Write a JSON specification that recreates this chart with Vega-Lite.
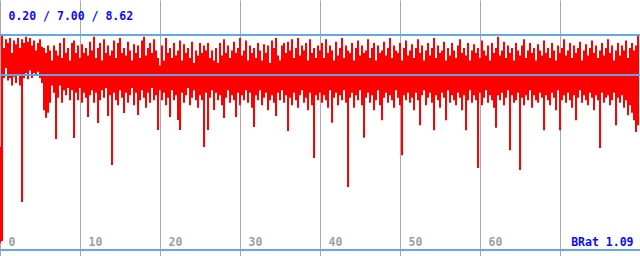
{
"$schema":"https://vega.github.io/schema/vega-lite/v6.json",
"width":640,"height":256,"autosize":"none","padding":0,"background":"#ffffff",
"config":{"view":{"stroke":null}},
"data":{"values":[
{"t":0,"h":4.13,"l":0.28},{"t":0.25,"h":8.58,"l":0.36},{"t":0.5,"h":8.1,"l":6.9},{"t":0.75,"h":8.45,"l":7.3},{"t":1,"h":8.3,"l":6.8},{"t":1.25,"h":8.5,"l":6.9},{"t":1.5,"h":7.9,"l":6.6},{"t":1.75,"h":8.4,"l":6.95},{"t":2,"h":8.25,"l":6.7},{"t":2.25,"h":8.5,"l":7.05},
{"t":2.5,"h":8.1,"l":6.6},{"t":2.75,"h":8.45,"l":1.92},{"t":3,"h":8.3,"l":6.9},{"t":3.25,"h":8.55,"l":7.1},{"t":3.5,"h":8.35,"l":6.85},{"t":3.75,"h":8.5,"l":7.2},{"t":4,"h":8.2,"l":6.9},{"t":4.25,"h":8.4,"l":7.1},{"t":4.5,"h":8.0,"l":7.05},{"t":4.75,"h":8.3,"l":7.15},
{"t":5,"h":8.45,"l":6.9},{"t":5.25,"h":8.15,"l":6.7},{"t":5.5,"h":8.1,"l":5.6},{"t":5.75,"h":7.9,"l":5.3},{"t":6,"h":8.2,"l":5.5},{"t":6.25,"h":8.0,"l":5.9},{"t":6.5,"h":7.6,"l":6.6},{"t":6.75,"h":8.2,"l":6.3},{"t":7,"h":8.0,"l":4.45},{"t":7.25,"h":7.8,"l":6.1},
{"t":7.5,"h":8.3,"l":6.6},{"t":7.75,"h":7.7,"l":5.9},{"t":8,"h":8.5,"l":6.4},{"t":8.25,"h":7.9,"l":6.2},{"t":8.5,"h":8.1,"l":6.5},{"t":8.75,"h":7.6,"l":6.0},{"t":9,"h":8.3,"l":6.4},{"t":9.25,"h":8.4,"l":4.49},{"t":9.5,"h":7.9,"l":6.3},{"t":9.75,"h":8.2,"l":6.0},
{"t":10,"h":7.7,"l":6.5},{"t":10.25,"h":8.25,"l":5.9},{"t":10.5,"h":7.9,"l":6.3},{"t":10.75,"h":8.1,"l":6.1},{"t":11,"h":7.8,"l":5.33},{"t":11.25,"h":8.35,"l":6.2},{"t":11.5,"h":8.0,"l":6.4},{"t":11.75,"h":8.55,"l":5.9},{"t":12,"h":7.7,"l":6.3},{"t":12.25,"h":8.1,"l":5.09},
{"t":12.5,"h":8.3,"l":6.0},{"t":12.75,"h":7.6,"l":6.4},{"t":13,"h":8.45,"l":6.1},{"t":13.25,"h":7.9,"l":6.5},{"t":13.5,"h":8.2,"l":5.37},{"t":13.75,"h":7.8,"l":6.2},{"t":14,"h":8.0,"l":3.41},{"t":14.25,"h":8.4,"l":6.3},{"t":14.5,"h":7.7,"l":6.0},{"t":14.75,"h":8.3,"l":5.8},
{"t":15,"h":8.5,"l":6.4},{"t":15.25,"h":7.9,"l":6.1},{"t":15.5,"h":8.1,"l":5.49},{"t":15.75,"h":7.8,"l":6.3},{"t":16,"h":8.35,"l":5.9},{"t":16.25,"h":8.0,"l":6.2},{"t":16.5,"h":7.6,"l":6.5},{"t":16.75,"h":8.25,"l":5.8},{"t":17,"h":7.9,"l":6.3},{"t":17.25,"h":8.2,"l":5.41},
{"t":17.5,"h":7.7,"l":6.0},{"t":17.75,"h":8.4,"l":6.4},{"t":18,"h":8.55,"l":6.1},{"t":18.25,"h":7.8,"l":5.7},{"t":18.5,"h":8.1,"l":6.3},{"t":18.75,"h":8.3,"l":5.9},{"t":19,"h":7.9,"l":6.5},{"t":19.25,"h":8.45,"l":6.0},{"t":19.5,"h":8.0,"l":6.2},{"t":19.75,"h":7.7,"l":4.81},
{"t":20,"h":7.4,"l":6.4},{"t":20.25,"h":8.2,"l":6.0},{"t":20.5,"h":7.6,"l":6.3},{"t":20.75,"h":8.5,"l":5.8},{"t":21,"h":7.9,"l":6.1},{"t":21.25,"h":8.1,"l":5.33},{"t":21.5,"h":7.7,"l":6.4},{"t":21.75,"h":8.3,"l":6.0},{"t":22,"h":7.8,"l":6.2},{"t":22.25,"h":8.0,"l":5.21},
{"t":22.5,"h":8.4,"l":4.81},{"t":22.75,"h":7.6,"l":6.3},{"t":23,"h":8.25,"l":5.9},{"t":23.25,"h":7.9,"l":6.2},{"t":23.5,"h":8.1,"l":6.5},{"t":23.75,"h":7.7,"l":5.8},{"t":24,"h":8.35,"l":6.1},{"t":24.25,"h":7.5,"l":6.4},{"t":24.5,"h":8.0,"l":6.0},{"t":24.75,"h":7.8,"l":5.7},
{"t":25,"h":8.3,"l":6.2},{"t":25.25,"h":7.9,"l":6.0},{"t":25.5,"h":8.2,"l":4.13},{"t":25.75,"h":8.0,"l":6.3},{"t":26,"h":8.3,"l":4.81},{"t":26.25,"h":7.7,"l":6.1},{"t":26.5,"h":8.0,"l":6.4},{"t":26.75,"h":7.6,"l":5.61},{"t":27,"h":8.1,"l":6.3},{"t":27.25,"h":7.5,"l":6.0},
{"t":27.5,"h":8.3,"l":6.2},{"t":27.75,"h":7.8,"l":5.8},{"t":28,"h":8.45,"l":5.29},{"t":28.25,"h":7.9,"l":6.1},{"t":28.5,"h":8.2,"l":6.4},{"t":28.75,"h":7.7,"l":5.9},{"t":29,"h":8.0,"l":6.2},{"t":29.25,"h":8.35,"l":6.0},{"t":29.5,"h":7.9,"l":5.33},{"t":29.75,"h":8.1,"l":6.3},
{"t":30,"h":8.5,"l":5.8},{"t":30.25,"h":7.8,"l":6.2},{"t":30.5,"h":8.0,"l":6.0},{"t":30.75,"h":8.4,"l":6.4},{"t":31,"h":7.6,"l":5.9},{"t":31.25,"h":8.2,"l":6.3},{"t":31.5,"h":7.9,"l":5.7},{"t":31.75,"h":8.1,"l":4.93},{"t":32,"h":7.7,"l":6.2},{"t":32.25,"h":8.3,"l":6.0},
{"t":32.5,"h":8.0,"l":6.4},{"t":32.75,"h":7.6,"l":5.8},{"t":33,"h":8.25,"l":6.1},{"t":33.25,"h":7.9,"l":6.3},{"t":33.5,"h":8.2,"l":5.6},{"t":33.75,"h":7.5,"l":6.0},{"t":34,"h":8.4,"l":6.2},{"t":34.25,"h":8.1,"l":5.9},{"t":34.5,"h":8.5,"l":5.37},{"t":34.75,"h":7.8,"l":6.3},
{"t":35,"h":7.6,"l":6.0},{"t":35.25,"h":8.2,"l":6.4},{"t":35.5,"h":8.3,"l":5.9},{"t":35.75,"h":7.9,"l":6.2},{"t":36,"h":8.35,"l":4.77},{"t":36.25,"h":8.0,"l":6.1},{"t":36.5,"h":8.45,"l":5.8},{"t":36.75,"h":7.7,"l":6.3},{"t":37,"h":8.1,"l":6.0},{"t":37.25,"h":8.5,"l":5.7},
{"t":37.5,"h":7.8,"l":6.2},{"t":37.75,"h":8.2,"l":6.4},{"t":38,"h":8.0,"l":5.9},{"t":38.25,"h":8.3,"l":6.1},{"t":38.5,"h":7.6,"l":5.6},{"t":38.75,"h":8.45,"l":6.3},{"t":39,"h":7.9,"l":5.8},{"t":39.25,"h":8.1,"l":3.69},{"t":39.5,"h":7.7,"l":6.2},{"t":39.75,"h":8.2,"l":6.0},
{"t":40,"h":8.0,"l":6.3},{"t":40.25,"h":8.3,"l":5.9},{"t":40.5,"h":7.7,"l":6.2},{"t":40.75,"h":8.45,"l":6.0},{"t":41,"h":7.9,"l":5.7},{"t":41.25,"h":8.2,"l":6.4},{"t":41.5,"h":8.0,"l":5.1},{"t":41.75,"h":7.6,"l":6.1},{"t":42,"h":8.35,"l":6.3},{"t":42.25,"h":7.8,"l":5.8},
{"t":42.5,"h":8.1,"l":6.2},{"t":42.75,"h":8.5,"l":6.0},{"t":43,"h":7.7,"l":6.4},{"t":43.25,"h":8.2,"l":5.9},{"t":43.5,"h":8.0,"l":2.53},{"t":43.75,"h":7.9,"l":6.1},{"t":44,"h":8.3,"l":6.3},{"t":44.25,"h":7.6,"l":5.7},{"t":44.5,"h":8.1,"l":6.2},{"t":44.75,"h":8.4,"l":6.0},
{"t":45,"h":7.8,"l":6.4},{"t":45.25,"h":8.2,"l":5.8},{"t":45.5,"h":7.9,"l":4.5},{"t":45.75,"h":8.0,"l":6.1},{"t":46,"h":8.45,"l":6.3},{"t":46.25,"h":7.7,"l":5.9},{"t":46.5,"h":8.1,"l":6.2},{"t":46.75,"h":8.3,"l":5.6},{"t":47,"h":7.6,"l":6.0},{"t":47.25,"h":8.2,"l":6.4},
{"t":47.5,"h":7.9,"l":5.8},{"t":47.75,"h":8.0,"l":5.2},{"t":48,"h":8.35,"l":6.1},{"t":48.25,"h":7.8,"l":6.3},{"t":48.5,"h":8.1,"l":5.9},{"t":48.75,"h":8.5,"l":6.2},{"t":49,"h":7.7,"l":6.0},{"t":49.25,"h":8.2,"l":5.7},{"t":49.5,"h":8.0,"l":6.4},{"t":49.75,"h":7.9,"l":6.1},
{"t":50,"h":8.3,"l":5.8},{"t":50.25,"h":7.6,"l":3.8},{"t":50.5,"h":8.1,"l":6.2},{"t":50.75,"h":8.4,"l":6.0},{"t":51,"h":7.8,"l":6.3},{"t":51.25,"h":8.0,"l":5.9},{"t":51.5,"h":8.25,"l":6.1},{"t":51.75,"h":7.7,"l":5.6},{"t":52,"h":8.1,"l":6.3},{"t":52.25,"h":8.45,"l":6.0},
{"t":52.5,"h":7.9,"l":5.0},{"t":52.75,"h":8.2,"l":6.2},{"t":53,"h":7.6,"l":6.4},{"t":53.25,"h":8.0,"l":5.8},{"t":53.5,"h":8.3,"l":6.1},{"t":53.75,"h":7.8,"l":6.3},{"t":54,"h":8.1,"l":5.9},{"t":54.25,"h":8.5,"l":4.8},{"t":54.5,"h":7.7,"l":6.2},{"t":54.75,"h":8.2,"l":6.0},
{"t":55,"h":7.9,"l":5.7},{"t":55.25,"h":8.0,"l":6.3},{"t":55.5,"h":8.35,"l":6.1},{"t":55.75,"h":7.6,"l":5.2},{"t":56,"h":8.1,"l":6.4},{"t":56.25,"h":7.8,"l":5.9},{"t":56.5,"h":8.3,"l":6.2},{"t":56.75,"h":8.0,"l":6.0},{"t":57,"h":7.7,"l":5.8},{"t":57.25,"h":8.2,"l":6.3},
{"t":57.5,"h":8.45,"l":6.1},{"t":57.75,"h":7.9,"l":5.6},{"t":58,"h":8.1,"l":6.2},{"t":58.25,"h":7.8,"l":4.8},{"t":58.5,"h":8.3,"l":6.0},{"t":58.75,"h":7.6,"l":6.4},{"t":59,"h":8.0,"l":5.9},{"t":59.25,"h":8.25,"l":6.2},{"t":59.5,"h":7.9,"l":6.0},{"t":59.75,"h":8.1,"l":3.29},
{"t":60,"h":7.7,"l":6.3},{"t":60.25,"h":8.4,"l":5.8},{"t":60.5,"h":8.0,"l":6.1},{"t":60.75,"h":7.8,"l":6.4},{"t":61,"h":8.2,"l":5.9},{"t":61.25,"h":7.6,"l":6.2},{"t":61.5,"h":8.3,"l":6.0},{"t":61.75,"h":7.9,"l":5.7},{"t":62,"h":8.1,"l":4.9},{"t":62.25,"h":8.55,"l":6.2},
{"t":62.5,"h":7.8,"l":6.0},{"t":62.75,"h":8.0,"l":6.3},{"t":63,"h":8.35,"l":5.8},{"t":63.25,"h":7.7,"l":6.1},{"t":63.5,"h":8.2,"l":6.4},{"t":63.75,"h":7.9,"l":4.0},{"t":64,"h":8.1,"l":6.2},{"t":64.25,"h":7.6,"l":5.9},{"t":64.5,"h":8.3,"l":6.0},{"t":64.75,"h":8.0,"l":6.3},
{"t":65,"h":7.8,"l":3.21},{"t":65.25,"h":8.2,"l":6.1},{"t":65.5,"h":8.45,"l":5.8},{"t":65.75,"h":7.7,"l":6.2},{"t":66,"h":8.0,"l":6.0},{"t":66.25,"h":8.3,"l":6.4},{"t":66.5,"h":7.9,"l":5.7},{"t":66.75,"h":8.1,"l":6.2},{"t":67,"h":7.6,"l":6.0},{"t":67.25,"h":8.25,"l":5.9},
{"t":67.5,"h":8.0,"l":6.3},{"t":67.75,"h":7.8,"l":6.1},{"t":68,"h":8.4,"l":4.8},{"t":68.25,"h":7.9,"l":6.2},{"t":68.5,"h":8.1,"l":6.0},{"t":68.75,"h":7.7,"l":5.8},{"t":69,"h":8.3,"l":6.3},{"t":69.25,"h":8.0,"l":6.1},{"t":69.5,"h":7.6,"l":5.6},{"t":69.75,"h":8.2,"l":6.4},
{"t":70,"h":7.9,"l":4.8},{"t":70.25,"h":8.1,"l":6.0},{"t":70.5,"h":8.45,"l":6.2},{"t":70.75,"h":7.8,"l":5.9},{"t":71,"h":8.0,"l":6.3},{"t":71.25,"h":8.3,"l":6.0},{"t":71.5,"h":7.7,"l":5.7},{"t":71.75,"h":8.2,"l":6.2},{"t":72,"h":7.9,"l":5.2},{"t":72.25,"h":8.1,"l":6.1},
{"t":72.5,"h":8.35,"l":6.4},{"t":72.75,"h":7.6,"l":5.9},{"t":73,"h":8.0,"l":6.2},{"t":73.25,"h":8.25,"l":6.0},{"t":73.5,"h":7.8,"l":5.8},{"t":73.75,"h":8.1,"l":6.3},{"t":74,"h":8.4,"l":6.1},{"t":74.25,"h":7.9,"l":5.6},{"t":74.5,"h":8.2,"l":6.2},{"t":74.75,"h":7.7,"l":6.0},
{"t":75,"h":8.0,"l":4.09},{"t":75.25,"h":8.3,"l":6.3},{"t":75.5,"h":7.8,"l":5.9},{"t":75.75,"h":8.1,"l":6.1},{"t":76,"h":8.45,"l":6.2},{"t":76.25,"h":7.9,"l":5.8},{"t":76.5,"h":8.2,"l":6.0},{"t":76.75,"h":7.6,"l":6.3},{"t":77,"h":8.0,"l":5.0},{"t":77.25,"h":8.3,"l":6.1},
{"t":77.5,"h":7.8,"l":5.9},{"t":77.75,"h":8.2,"l":6.2},{"t":78,"h":8.0,"l":5.7},{"t":78.25,"h":8.4,"l":6.0},{"t":78.5,"h":7.7,"l":5.4},{"t":78.75,"h":8.1,"l":5.8},{"t":79,"h":8.3,"l":5.5},{"t":79.25,"h":8.0,"l":5.2},{"t":79.5,"h":8.2,"l":4.73},{"t":79.75,"h":8.6,"l":5.0}
]},
"layer":[
{"mark":{"type":"rule","color":"#ff0000","strokeWidth":2},
"encoding":{
"x":{"field":"t","type":"quantitative","scale":{"domain":[0,80],"nice":false,"zero":false},
"axis":{"orient":"bottom","values":[0,10,20,30,40,50,60,70],"grid":true,"gridColor":"#aaaaaa","gridOpacity":1,"gridWidth":1,"ticks":false,"domain":false,"labelExpr":"datum.value >= 70 ? '' : datum.label","labelAlign":"left","labelOffset":8,"labelBaseline":"alphabetic","labelPadding":-11,"labelFont":"DejaVu Sans Mono","labelFontSize":11.5,"labelFontWeight":"bold","labelColor":"#a0a0a0","labelFlush":false,"labelOverlap":false,"zindex":0,
"title":"BRat 1.09","titleX":633,"titleY":-11,"titleAlign":"right","titleAnchor":"end","titleBaseline":"alphabetic","titleAngle":0,"titleFont":"DejaVu Sans Mono","titleFontSize":11.5,"titleFontWeight":"bold","titleColor":"#0a0aff"}},
"y":{"field":"h","type":"quantitative","scale":{"domain":[-0.2406,10.0232],"nice":false,"zero":false},
"axis":{"orient":"left","grid":false,"labels":false,"ticks":false,"domain":false,
"title":"0.20 / 7.00 / 8.62","titleX":8,"titleY":19,"titleAngle":0,"titleAlign":"left","titleBaseline":"alphabetic","titleFont":"DejaVu Sans Mono","titleFontSize":11.5,"titleFontWeight":"bold","titleColor":"#0a0aff"}},
"y2":{"field":"l"}
}},
{"mark":{"type":"rule","color":"#64a8e6","strokeWidth":1},"encoding":{"y":{"datum":7}}},
{"mark":{"type":"rule","color":"#64a8e6","strokeWidth":1},"encoding":{"y":{"datum":8.62}}},
{"mark":{"type":"rule","color":"#64a8e6","strokeWidth":1},"encoding":{"y":{"datum":0}}}
]
}
